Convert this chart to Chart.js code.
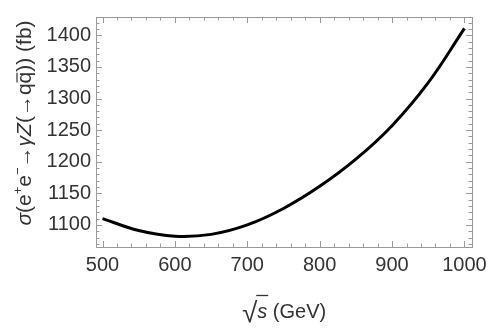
<!DOCTYPE html>
<html>
<head>
<meta charset="utf-8">
<script src="https://cdn.jsdelivr.net/npm/chart.js@4.4.1/dist/chart.umd.min.js"></script>
<style>
html,body{margin:0;padding:0;background:#fff;}
#wrap{width:493px;height:330px;position:relative;}
</style>
</head>
<body>
<div id="wrap"><canvas id="c" width="493" height="330"></canvas></div>
<script>
// Data
const sqrtS = [500, 550, 600, 650, 700, 750, 800, 850, 900, 950, 1000];
const sigma = [1110, 1091, 1082, 1085, 1100, 1126, 1161, 1204, 1257, 1325, 1411];
const xTicks = [500, 600, 700, 800, 900, 1000];
const yTicks = [1100, 1150, 1200, 1250, 1300, 1350, 1400];
const xMinorStep = 20;
const yMinorStep = 10;

const FONT = '"Liberation Sans", Arial, sans-serif';
const FRAME = '#9a9a9a';

const framePlugin = {
  id: 'frame',
  afterDraw(chart) {
    const {ctx, chartArea: a, scales: {x, y}} = chart;
    ctx.save();
    ctx.strokeStyle = FRAME;
    ctx.lineWidth = 1;
    ctx.strokeRect(Math.round(a.left) + 0.5, Math.round(a.top) + 0.5,
                   Math.round(a.right - a.left), Math.round(a.bottom - a.top));
    ctx.beginPath();
    const majX = new Set(xTicks), majY = new Set(yTicks);
    for (let v = Math.ceil(x.min / xMinorStep) * xMinorStep; v <= x.max; v += xMinorStep) {
      const px = Math.round(x.getPixelForValue(v)) + 0.5;
      const L = majX.has(v) ? 6 : 3.5;
      ctx.moveTo(px, a.bottom); ctx.lineTo(px, a.bottom - L);
      ctx.moveTo(px, a.top); ctx.lineTo(px, a.top + L);
    }
    for (let v = Math.ceil(y.min / yMinorStep) * yMinorStep; v <= y.max; v += yMinorStep) {
      const py = Math.round(y.getPixelForValue(v)) + 0.5;
      const L = majY.has(v) ? 6 : 3.5;
      ctx.moveTo(a.left, py); ctx.lineTo(a.left + L, py);
      ctx.moveTo(a.right, py); ctx.lineTo(a.right - L, py);
    }
    ctx.stroke();

    // Axis titles
    ctx.fillStyle = '#333';
    ctx.strokeStyle = '#333';
    // X title: sqrt(s) (GeV)
    const fs = 20;
    const cx = (a.left + a.right) / 2 + 0;
    const base = 318;
    ctx.textBaseline = 'alphabetic';
    const parts = [
      {t: '√', f: `28px ${FONT}`},
      {t: 's', f: `italic ${fs}px ${FONT}`, bar: true},
      {t: ' (GeV)', f: `${fs}px ${FONT}`}
    ];
    let tw = 0;
    parts.forEach(p => { ctx.font = p.f; p.w = ctx.measureText(p.t).width; tw += p.w; });
    let xx = cx - tw / 2;
    parts.forEach(p => {
      ctx.font = p.f;
      ctx.fillText(p.t, xx, base + (p.t === '√' ? 4 : 0));
      if (p.bar) {
        ctx.lineWidth = 1.3;
        ctx.beginPath();
        ctx.moveTo(xx - 1, base - 22.5);
        ctx.lineTo(xx + p.w + 1, base - 22.5);
        ctx.stroke();
      }
      xx += p.w;
    });

    // Y title rotated
    const yfs = 21;
    const yparts = [
      {t: 'σ', i: true},
      {t: '(e'},
      {t: '+', sup: true},
      {t: 'e'},
      {t: '−', sup: true},
      {t: '→'},
      {t: 'γZ', i: true},
      {t: '(→q'},
      {t: 'q', bar: true},
      {t: ')) (fb)'}
    ];
    const fontFor = p => (p.i ? 'italic ' : '') + (p.sup ? Math.round(yfs * 0.62) : yfs) + 'px ' + FONT;
    let tot = 0;
    yparts.forEach(p => { ctx.font = fontFor(p); p.w = ctx.measureText(p.t).width; tot += p.w; });
    ctx.translate(31, 123);
    ctx.rotate(-Math.PI / 2);
    let px = -tot / 2;
    yparts.forEach(p => {
      ctx.font = fontFor(p);
      ctx.fillText(p.t, px, p.sup ? -9 : 0);
      if (p.bar) {
        ctx.lineWidth = 1.2;
        ctx.beginPath();
        ctx.moveTo(px + 1, -14);
        ctx.lineTo(px + p.w - 1, -14);
        ctx.stroke();
      }
      px += p.w;
    });
    ctx.restore();
  }
};

new Chart(document.getElementById('c'), {
  type: 'line',
  data: {
    datasets: [{
      data: sqrtS.map((v, i) => ({x: v, y: sigma[i]})),
      borderColor: '#000',
      borderWidth: 3,
      pointRadius: 0,
      fill: false,
      tension: 0.4
    }]
  },
  options: {
    responsive: false,
    animation: false,
    devicePixelRatio: 1,
    layout: {padding: {top: 13, right: 16, left: 0, bottom: 0}},
    plugins: {legend: {display: false}, tooltip: {enabled: false}},
    scales: {
      x: {
        type: 'linear', min: 491, max: 1010.5,
        grid: {display: false, drawTicks: false},
        border: {display: false},
        afterBuildTicks: s => { s.ticks = xTicks.map(v => ({value: v})); },
        afterFit: s => { s.height = 83; },
        ticks: {font: {family: FONT, size: 20}, color: '#333', padding: 6, maxRotation: 0, autoSkip: false,
                callback: v => String(v)}
      },
      y: {
        min: 1065, max: 1429,
        grid: {display: false, drawTicks: false},
        border: {display: false},
        afterBuildTicks: s => { s.ticks = yTicks.map(v => ({value: v})); },
        afterFit: s => { s.width = 96; },
        ticks: {font: {family: FONT, size: 20}, color: '#333', padding: 5, autoSkip: false,
                callback: v => String(v)}
      }
    }
  },
  plugins: [framePlugin]
});
</script>
</body>
</html>
